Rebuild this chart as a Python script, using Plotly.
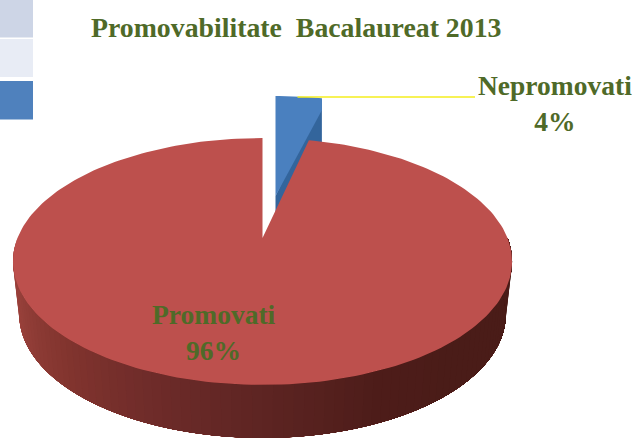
import math
import plotly.graph_objects as go

categories = ["Nepromovati", "Promovati"]
values = [4, 96]
title_text = "Promovabilitate  Bacalaureat 2013"
corner_swatches = ["#cdd5e6", "#e8ecf5", "#4f81bd"]
side_shades = ["#a8433f", "#96403a", "#83352f", "#6f2c2a", "#5e2523", "#4e1d1a", "#4a1c18", "#4a1c18", "#4a1c18"]

W, H = 635, 439
X0, Y0 = 262.5, 238        # projected pie centre
R, RY, K = 245, 119, 0.19  # perspective model of the tilted disc
DEPTH = 53
NOTCH_VIEW = 0.9           # foreshortening of the thin exploded slice


def project(deg, r=1.0, xs=1.0, dy=0.0, ox=0.0, oy=0.0):
    t = math.radians(deg)
    u, v = r * math.sin(t), -r * math.cos(t)
    s = 1 / (1 - K * v)
    return X0 + ox + xs * R * u * s, Y0 + oy + dy + RY * v * s


def hex_rgb(c):
    return tuple(int(c[i:i + 2], 16) for i in (1, 3, 5))


def shade(f):
    p = f * (len(side_shades) - 1)
    i = min(int(p), len(side_shades) - 2)
    a, b = hex_rgb(side_shades[i]), hex_rgb(side_shades[i + 1])
    m = p - i
    return "rgb(%d,%d,%d)" % tuple(a[j] + (b[j] - a[j]) * m for j in range(3))


def poly(points, color, line=0.0):
    xs, ys = zip(*points)
    return go.Scatter(x=list(xs) + [xs[0]], y=list(ys) + [ys[0]], mode="lines", fill="toself",
                      fillcolor=color, line=dict(color=color, width=line),
                      hoverinfo="skip", showlegend=False)


total = sum(values)
notch = values[0] / total * 360 * NOTCH_VIEW

fig = go.Figure()

# exploded blue slice (behind the red one)
BX, BY = 13, -42
rim = [project(notch * i / 12, ox=BX, oy=BY) for i in range(13)]
apex = (X0 + BX, Y0 + BY)
low = (X0 + BX, Y0 + BY + 24)
right_low = (rim[-1][0], rim[-1][1] + 53)
fig.add_trace(poly([apex, low, right_low, rim[-1]], "#33659c"))
fig.add_trace(poly([apex] + rim + [(rim[-1][0], rim[-1][1] + 12)], "#4a80bf"))

# red side wall: each strip runs on under the next one, so no seams show
start, stop = 270.0, 90.0
n = 90
for i in range(n):
    a = start - (start - stop) * i / n
    b = stop
    pts = [project(a + (b - a) * j / 40) for j in range(41)] + \
          [project(b - (b - a) * j / 40, xs=0.975, dy=DEPTH) for j in range(41)]
    fig.add_trace(poly(pts, shade(i / (n - 1))))

# red top face
arc = [project(notch + (360 - notch) * i / 240) for i in range(241)]
fig.add_trace(poly([(X0, Y0)] + arc, "#bd504d"))

# leader line
fig.add_trace(go.Scatter(x=[rim[0][0] + 22, 475], y=[97, 97], mode="lines",
                         line=dict(color="#f5ee1e", width=1.5), hoverinfo="skip", showlegend=False))

shapes = []
for i, c in enumerate(corner_swatches):
    y0, y1 = [(0, 37.5), (39, 77), (81, 119.5)][i]
    shapes.append(dict(type="rect", xref="x", yref="y", x0=0, x1=33, y0=y0, y1=y1,
                       fillcolor=c, line_width=0))

text_font = dict(family="Liberation Serif", size=27.5, color="#4f6a28")
annotations = [
    dict(x=295.5, y=27, text="<b>%s</b>" % title_text, showarrow=False,
         font=dict(family="Liberation Serif", size=27.8, color="#4f6a28")),
    dict(x=555, y=103, text="<b>%s<br>%d%%</b>" % (categories[0], values[0]), showarrow=False, font=text_font),
    dict(x=214, y=332, text="<b>%s<br>%d%%</b>" % (categories[1], values[1]), showarrow=False, font=text_font),
]

fig.update_layout(
    width=W, height=H, margin=dict(l=0, r=0, t=0, b=0), showlegend=False,
    paper_bgcolor="white", plot_bgcolor="white",
    xaxis=dict(range=[0, W], visible=False, fixedrange=True),
    yaxis=dict(range=[H, 0], visible=False, fixedrange=True),
    shapes=shapes, annotations=annotations,
)
fig.write_html("out.html", config=dict(displayModeBar=False),
               post_script="document.body.style.margin='0';document.documentElement.style.overflow='hidden';")
